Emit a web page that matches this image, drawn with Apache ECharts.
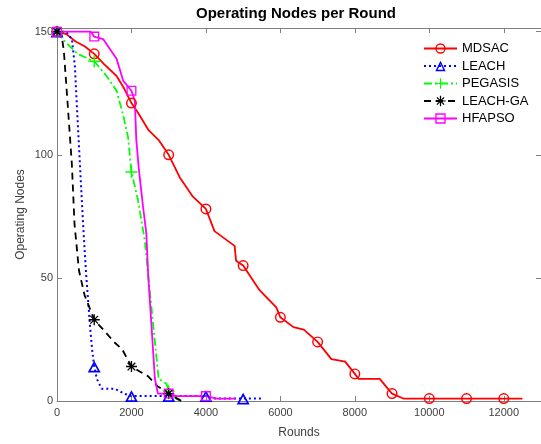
<!DOCTYPE html>
<html>
<head>
<meta charset="utf-8">
<script src="https://cdn.jsdelivr.net/npm/echarts@6.0.0/dist/echarts.min.js"></script>
<style>
  html, body { margin: 0; padding: 0; background: #fff; }
  #chart { width: 541px; height: 444px; }
</style>
</head>
<body>
<div id="chart"></div>
<script>
// values
const mdsacRounds = [0, 250, 500, 750, 1000, 1250, 1600, 1800, 2000, 2180, 2460, 2730, 3000, 3290, 3650, 4000, 4230, 4770, 4810, 5000, 5440, 5890, 6000, 6350, 6630, 7000, 7370, 7740, 8000, 8100, 8670, 8940, 9000, 9300, 10000, 11000, 12000, 12500];
const mdsacNodes  = [150, 149, 146, 144, 141, 137, 132, 127, 121, 117, 110, 106, 100, 91, 83, 78, 69, 63, 57, 55, 45, 38, 34, 30, 29, 24, 17, 16, 11, 9, 9, 4, 3, 1, 1, 1, 1, 1];

const leachRounds = [0, 250, 400, 480, 530, 620, 700, 780, 850, 900, 950, 1000, 1070, 1200, 1550, 1800, 2000, 3000, 4000, 4100, 5000, 5500];
const leachNodes  = [150, 150, 147, 136, 121, 95, 72, 52, 38, 28, 20, 14, 9, 5, 5, 3, 2, 2, 2, 1, 1, 1];

const pegasisRounds = [0, 150, 350, 550, 1000, 1330, 1600, 1780, 1910, 2000, 2170, 2360, 2450, 2590, 2730, 2940, 3000, 3200, 3300];
const pegasisNodes  = [150, 147, 144, 141, 138, 132, 126, 116, 107, 93, 82, 65, 51, 30, 9, 7, 4, 1, 0];

const leachGaRounds = [0, 120, 185, 280, 400, 470, 590, 740, 1000, 1300, 1530, 1750, 2000, 2220, 2450, 2700, 3000, 3340];
const leachGaNodes  = [150, 149, 142, 122, 96, 72, 53, 43, 33, 28, 24, 21, 14, 12, 10, 6, 3, 0];

const hfapsoRounds = [0, 900, 1000, 1240, 1420, 1600, 1780, 2000, 2090, 2130, 2200, 2310, 2400, 2450, 2540, 2630, 2710, 3000, 3200, 4000, 4300, 4800];
const hfapsoNodes  = [150, 150, 148, 147, 143, 139, 130, 126, 122, 106, 94, 79, 68, 51, 30, 9, 3, 3, 2, 2, 1, 1];

const xTicks = [0, 2000, 4000, 6000, 8000, 10000, 12000];
const yTicks = [0, 50, 100, 150];

// marker outlines (MATLAB markers are hollow, so build rings with a hole)
const ringCircle = 'path://M10,0A10,10,0,1,1,10,20A10,10,0,1,1,10,0ZM10,2.6A7.4,7.4,0,1,0,10,17.4A7.4,7.4,0,1,0,10,2.6Z';
const ringTriangle = 'path://M10,0L20,18L0,18ZM10,5.4L4.4,15.4L15.6,15.4Z';
const ringSquare = 'path://M0,0H20V20H0ZM2.6,2.6V17.4H17.4V2.6Z';
const plusMark = 'path://M8.8,0H11.2V8.8H20V11.2H11.2V20H8.8V11.2H0V8.8H8.8Z';
const starMark = 'path://M0,8.8H20V11.2H0ZM8.8,0H11.2V20H8.8Z' +
  'M2.15,3.85L3.85,2.15L17.85,16.15L16.15,17.85Z' +
  'M16.15,2.15L17.85,3.85L3.85,17.85L2.15,16.15Z';

const font = '"Liberation Sans", Arial, sans-serif';
const axisGray = '#808080';

const zip = (xs, ys) => xs.map((x, i) => [x, ys[i]]);

const makeSeries = (name, rounds, nodes, color, dash, width, symbol, size, keepAspect) => ({
  name,
  type: 'line',
  data: zip(rounds, nodes),
  symbol,
  symbolKeepAspect: !!keepAspect,
  symbolSize: (val) => (val[0] % 1000 === 0 ? size : 0),
  showAllSymbol: true,
  lineStyle: { color, width, type: dash },
  itemStyle: { color, borderWidth: 0 },
  emphasis: { disabled: true },
  animation: false,
});

const chart = echarts.init(document.getElementById('chart'), null, { renderer: 'canvas' });

const xLabel = (v) => (xTicks.includes(v) ? String(v) : '');
const yLabel = (v) => (yTicks.includes(v) ? String(v) : '');

// box axes: ticks point into the plot on all four sides
const boxLine = { show: true, onZero: false, lineStyle: { color: axisGray, width: 1 } };
const tickIn = { show: true, inside: true, length: 5, lineStyle: { color: axisGray } };

chart.setOption({
  backgroundColor: '#fff',
  animation: false,
  title: {
    text: 'Operating Nodes per Round',
    left: 196,
    top: 6,
    padding: 0,
    textStyle: { fontFamily: font, fontSize: 15, fontWeight: 'bold', color: '#000' },
  },
  legend: {
    orient: 'vertical',
    left: 423,
    top: 42,
    padding: 0,
    itemWidth: 33,
    itemHeight: 13,
    itemGap: 4.5,
    textStyle: { fontFamily: font, fontSize: 13, color: '#000' },
    data: ['MDSAC', 'LEACH', 'PEGASIS', 'LEACH-GA', 'HFAPSO'],
  },
  grid: { left: 57, right: 0, top: 28, bottom: 43 },
  xAxis: [
    {
      type: 'value',
      min: 0,
      max: 13000,
      interval: 2000,
      name: 'Rounds',
      nameLocation: 'middle',
      nameGap: 26,
      nameMoveOverlap: false,
      nameTextStyle: { fontFamily: font, fontSize: 12, color: '#404040' },
      axisLine: boxLine,
      axisTick: tickIn,
      axisLabel: { fontFamily: font, fontSize: 11, color: '#404040', margin: 6, formatter: xLabel, showMaxLabel: false },
      splitLine: { show: false },
    },
    {
      type: 'value',
      position: 'top',
      min: 0,
      max: 13000,
      interval: 2000,
      axisLine: boxLine,
      axisTick: tickIn,
      axisLabel: { show: false },
      splitLine: { show: false },
    },
  ],
  yAxis: [
    {
      type: 'value',
      min: 0,
      max: 151.5,
      interval: 50,
      name: 'Operating Nodes',
      nameLocation: 'middle',
      nameGap: 30,
      nameMoveOverlap: false,
      nameTextStyle: { fontFamily: font, fontSize: 12, color: '#404040' },
      axisLine: boxLine,
      axisTick: tickIn,
      axisLabel: { fontFamily: font, fontSize: 11, color: '#404040', margin: 4, formatter: yLabel, showMaxLabel: false },
      splitLine: { show: false },
    },
    {
      type: 'value',
      position: 'right',
      min: 0,
      max: 151.5,
      interval: 50,
      axisLine: boxLine,
      axisTick: tickIn,
      axisLabel: { show: false },
      splitLine: { show: false },
    },
  ],
  series: [
    makeSeries('MDSAC', mdsacRounds, mdsacNodes, '#ff0000', 'solid', 1.8, ringCircle, 11),
    makeSeries('LEACH', leachRounds, leachNodes, '#0000ff', [2, 3], 2, ringTriangle, 13, true),
    makeSeries('PEGASIS', pegasisRounds, pegasisNodes, '#00ff00', [8, 3, 2, 3], 1.8, plusMark, 12),
    makeSeries('LEACH-GA', leachGaRounds, leachGaNodes, '#000000', [7, 5], 1.8, starMark, 11),
    makeSeries('HFAPSO', hfapsoRounds, hfapsoNodes, '#ff00ff', 'solid', 1.8, ringSquare, 10),
  ],
});
</script>
</body>
</html>
